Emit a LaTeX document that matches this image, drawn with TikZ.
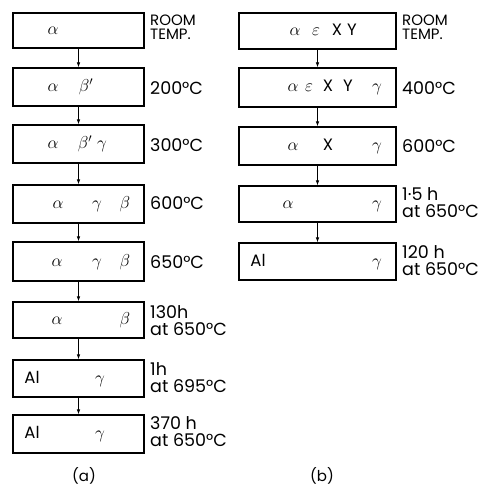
\documentclass[tikz,border=0pt]{standalone}
\usepackage{fontspec}
\setmainfont{Poppins}
\usetikzlibrary{arrows.meta}
\begin{document}
\begin{tikzpicture}[x=1pt,y=-1pt,
  phase/.style={draw, line width=1.2pt, inner sep=0pt},
  lbox/.style={phase, minimum width=131pt},
  rbox/.style={phase, minimum width=157pt},
  conn/.style={line width=0.7pt, -{Latex[length=5pt,width=3.5pt]}},
  lbl/.style={anchor=west, align=left, inner sep=0pt, font=\fontsize{17.5}{17}\selectfont},
  rt/.style={anchor=north west, align=left, inner sep=0pt, font=\fontsize{15}{13.5}\selectfont},
  g/.style={anchor=base, inner sep=0pt, font=\fontsize{16.5}{16}\selectfont},
  captext/.style={inner sep=0pt, font=\fontsize{15}{15}\selectfont}]
\useasboundingbox (0,0) rectangle (483,487);
% left column boxes
\node[lbox, minimum height=35pt] (a1) at (78.5,30.5) {};
\node[lbox, minimum height=38pt] (a2) at (78.5,87) {};
\node[lbox, minimum height=38pt] (a3) at (78.5,144) {};
\node[lbox, minimum height=38pt] (a4) at (78.5,204) {};
\node[lbox, minimum height=39pt] (a5) at (78.5,261.5) {};
\node[lbox, minimum height=36pt] (a6) at (78.5,320) {};
\node[lbox, minimum height=37pt] (a7) at (78.5,378.5) {};
\node[lbox, minimum height=38pt] (a8) at (78.5,434) {};
% right column boxes
\node[rbox, minimum height=36pt] (b1) at (317.5,31) {};
\node[rbox, minimum height=39pt] (b2) at (317.5,87.5) {};
\node[rbox, minimum height=38pt] (b3) at (317.5,146) {};
\node[rbox, minimum height=36pt] (b4) at (317.5,204) {};
\node[rbox, minimum height=37pt] (b5) at (317.5,261.5) {};
% connectors
\foreach \i/\j in {a1/a2,a2/a3,a3/a4,a4/a5,a5/a6,a6/a7,a7/a8,b1/b2,b2/b3,b3/b4,b4/b5}
  \draw[conn] (\i.south) -- (\j.north);
% contents left
\node[g] (a1p1) at (53,35) {$\alpha$};
\node[g] (a2p1) at (53,91.5) {$\alpha$};
\node[g] (a2p2) at (86,91.5) {$\beta'$};
\node[g] (a3p1) at (53,148.5) {$\alpha$};
\node[g] (a3p2) at (85,148.5) {$\beta'$};
\node[g] (a3p3) at (102,148.5) {$\gamma$};
\node[g] (a4p1) at (58,208.5) {$\alpha$};
\node[g] (a4p2) at (97,208.5) {$\gamma$};
\node[g] (a4p3) at (125,208.5) {$\beta$};
\node[g] (a5p1) at (57,266) {$\alpha$};
\node[g] (a5p2) at (97,266) {$\gamma$};
\node[g] (a5p3) at (125,266) {$\beta$};
\node[g] (a6p1) at (57,324.5) {$\alpha$};
\node[g] (a6p3) at (125,324.5) {$\beta$};
\node[g] (a7p1) at (32,383) {Al};
\node[g] (a7p2) at (100,383) {$\gamma$};
\node[g] (a8p1) at (32,438.5) {Al};
\node[g] (a8p2) at (100,438.5) {$\gamma$};
% contents right
\node[g] (b1p1) at (295,35.5) {$\alpha$};
\node[g] (b1p2) at (316,35.5) {$\varepsilon$};
\node[g] (b1p3) at (337,35.5) {X};
\node[g] (b1p4) at (352,35.5) {Y};
\node[g] (b2p1) at (293,92) {$\alpha$};
\node[g] (b2p2) at (309,92) {$\varepsilon$};
\node[g] (b2p3) at (328,92) {X};
\node[g] (b2p4) at (348,92) {Y};
\node[g] (b2p5) at (377,92) {$\gamma$};
\node[g] (b3p1) at (293,150.5) {$\alpha$};
\node[g] (b3p2) at (328,150.5) {X};
\node[g] (b3p3) at (377,150.5) {$\gamma$};
\node[g] (b4p1) at (288,208.5) {$\alpha$};
\node[g] (b4p2) at (377,208.5) {$\gamma$};
\node[g] (b5p1) at (258,266) {Al};
\node[g] (b5p2) at (377,266) {$\gamma$};
% labels left
\node[rt] (la1) at (150,15) {ROOM\\TEMP.};
\node[lbl] (la2) at (150,88) {200°C};
\node[lbl] (la3) at (150,145) {300°C};
\node[lbl] (la4) at (150,203) {600°C};
\node[lbl] (la5) at (150,262) {650°C};
\node[lbl] (la6) at (150,321) {130h\\at 650°C};
\node[lbl] (la7) at (150,378) {1h\\at 695°C};
\node[lbl] (la8) at (150,432) {370 h\\at 650°C};
% labels right
\node[rt] (lb1) at (402,15) {ROOM\\TEMP.};
\node[lbl] (lb2) at (402,88) {400°C};
\node[lbl] (lb3) at (402,146) {600°C};
\node[lbl] (lb4) at (402,203) {1·5 h\\at 650°C};
\node[lbl] (lb5) at (402,261) {120 h\\at 650°C};
% captions
\node[captext] (capa) at (84,476) {(a)};
\node[captext] (capb) at (322,476) {(b)};
\end{tikzpicture}
\end{document}
